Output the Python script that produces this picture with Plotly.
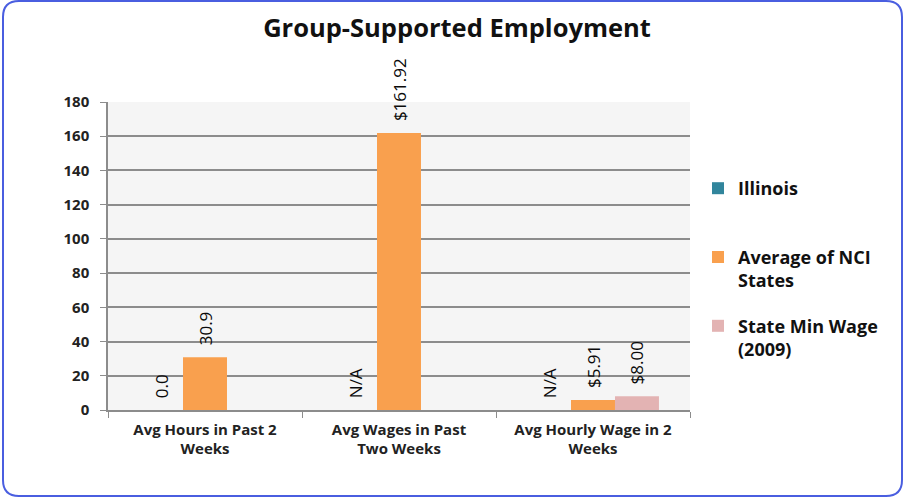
import plotly.graph_objects as go

categories = ["Avg Hours in Past 2<br>Weeks", "Avg Wages in Past<br>Two Weeks", "Avg Hourly Wage in 2<br>Weeks"]
illinois_values = [0.0, 0.0, 0.0]
illinois_labels = ["0.0", "N/A", "N/A"]
nci_values = [30.9, 161.92, 5.91]
nci_labels = ["30.9", "$161.92", "$5.91"]
minwage_values = [None, None, 8.00]
minwage_labels = ["", "", "$8.00"]
y_ticks = [0, 20, 40, 60, 80, 100, 120, 140, 160, 180]

W, H = 905, 499
L, R, T, B = 108, 690, 102, 410
FONT = "Open Sans"

label_font = dict(family=FONT, size=17, color="#0a0a0a")

fig = go.Figure()
fig.add_trace(go.Bar(name="Illinois<br>\u00a0", x=categories, y=illinois_values, text=illinois_labels,
                     marker=dict(color="#31859c"), legendgroup="a"))
fig.add_trace(go.Bar(name="Average of NCI<br>States", x=categories, y=nci_values, text=nci_labels,
                     marker=dict(color="#f9a04e"), legendgroup="b"))
fig.add_trace(go.Bar(name="State Min Wage<br>(2009)", x=categories, y=minwage_values, text=minwage_labels,
                     marker=dict(color="#e3b3b3"), legendgroup="c"))
fig.update_traces(textposition="outside", textangle=-90, cliponaxis=False, constraintext="none",
                  texttemplate="\u00a0\u00a0%{text}", textfont=label_font, marker_line_width=0)

def px_x(p):
    return (p - L) / (R - L)

def px_y(p):
    return (B - p) / (B - T)

def rounded_rect(x0, y0, x1, y1, r):
    pts = [
        f"M {px_x(x0 + r)} {px_y(y0)}",
        f"L {px_x(x1 - r)} {px_y(y0)}",
        f"Q {px_x(x1)} {px_y(y0)} {px_x(x1)} {px_y(y0 + r)}",
        f"L {px_x(x1)} {px_y(y1 - r)}",
        f"Q {px_x(x1)} {px_y(y1)} {px_x(x1 - r)} {px_y(y1)}",
        f"L {px_x(x0 + r)} {px_y(y1)}",
        f"Q {px_x(x0)} {px_y(y1)} {px_x(x0)} {px_y(y1 - r)}",
        f"L {px_x(x0)} {px_y(y0 + r)}",
        f"Q {px_x(x0)} {px_y(y0)} {px_x(x0 + r)} {px_y(y0)}",
        "Z",
    ]
    return " ".join(pts)

fig.add_shape(type="path", xref="paper", yref="paper", path=rounded_rect(3, 1, 902, 496, 16),
              line=dict(color="#4a5ee0", width=2), layer="below")

fig.update_layout(
    width=W, height=H,
    margin=dict(l=L, r=W - R, t=T, b=H - B, autoexpand=False),
    paper_bgcolor="white",
    plot_bgcolor="#f5f5f5",
    barmode="group",
    bargap=0.32,
    bargroupgap=0,
    title=dict(text="Group-Supported Employment", x=457 / W, xanchor="center",
               y=1 - 28 / H, yanchor="middle", yref="container",
               font=dict(family=FONT, size=25.5, color="#111111", weight="bold")),
    legend=dict(x=px_x(698), xanchor="left", y=px_y(170), yanchor="top", valign="top",
                font=dict(family=FONT, size=18, color="#111111", weight="bold"),
                traceorder="grouped", tracegroupgap=19, bgcolor="rgba(0,0,0,0)",
                itemwidth=30),
    xaxis=dict(showline=True, linecolor="#8c8c8c", linewidth=1.5, ticks="outside",
               tickson="boundaries", ticklen=6, tickcolor="#8c8c8c", ticklabelstandoff=5,
               tickfont=dict(family=FONT, size=15, color="#222222", weight="bold"),
               showgrid=False),
    yaxis=dict(range=[0, 180], tickvals=y_ticks, showline=True, linecolor="#8c8c8c", linewidth=1.5,
               ticks="outside", ticklen=6, tickcolor="#8c8c8c", ticklabelstandoff=8,
               showgrid=True, gridcolor="#8c8c8c", gridwidth=1.5, zeroline=False,
               tickfont=dict(family=FONT, size=15, color="#222222", weight="bold")),
)

fig.write_html("out.html", config={"displayModeBar": False},
               post_script="document.body.style.margin='0';")
